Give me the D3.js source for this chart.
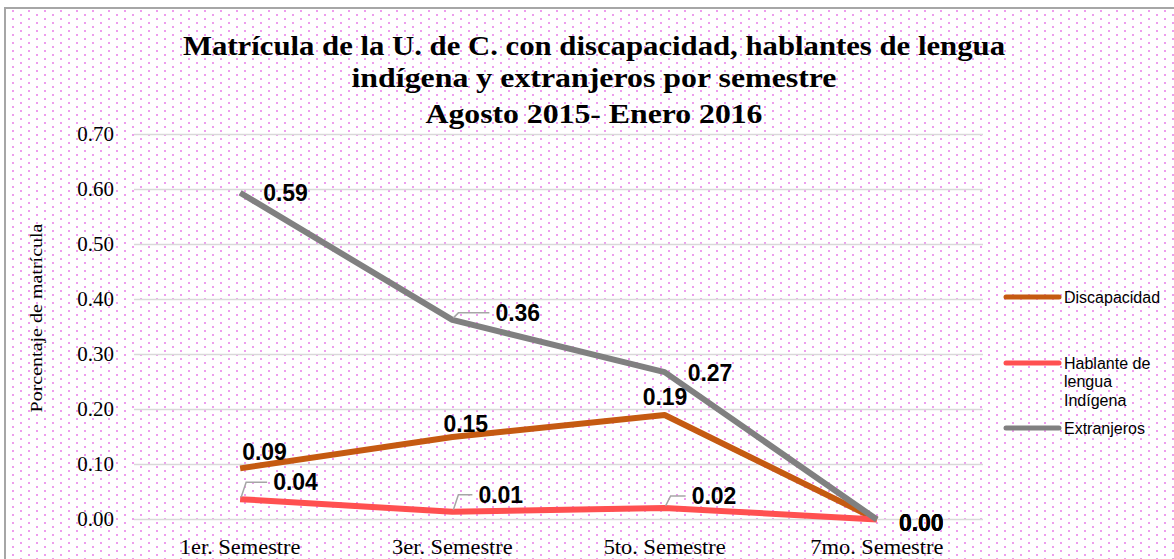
<!DOCTYPE html>
<html>
<head>
<meta charset="utf-8">
<script src="https://cdn.jsdelivr.net/npm/d3@7"></script>
<style>
    html, body { margin: 0; padding: 0; background: #fff; }
    svg { display: block; }
</style>
</head>
<body>
<svg id="chart" width="1174" height="559"></svg>
<script>
// data
const semesters = ['1er. Semestre', '3er. Semestre', '5to. Semestre', '7mo. Semestre'];
const discapacidad = [0.093, 0.150, 0.190, 0.0];
const hablante = [0.037, 0.014, 0.021, 0.0];
const extranjeros = [0.594, 0.363, 0.268, 0.0];
const yTicks = [0, 0.1, 0.2, 0.3, 0.4, 0.5, 0.6, 0.7];
const titleLines = [
    'Matrícula de la U. de C. con discapacidad, hablantes de lengua',
    'indígena y extranjeros por semestre',
    'Agosto 2015- Enero 2016'
];

const series = [
    { name: 'Discapacidad', legend: ['Discapacidad'], values: discapacidad, color: '#c55a11',
      offsets: [[2, -16], [-9, -13], [-22, -18], [22, 3]], leader: [false, false, false, false], legendY: 297 },
    { name: 'Hablante', legend: ['Hablante de', 'lengua', 'Indígena'], values: hablante, color: '#ff5050',
      offsets: [[33, -17], [26, -17], [27, -12], [22, 3]], leader: [true, true, true, false], legendY: 363 },
    { name: 'Extranjeros', legend: ['Extranjeros'], values: extranjeros, color: '#808080',
      offsets: [[23, 0], [43, -7], [23, 1], [22, 3]], leader: [false, true, false, false], legendY: 428 }
];

const svg = d3.select('#chart');

// dotted pink background (checkerboard of small dots)
const defs = svg.append('defs');
const pat = defs.append('pattern')
    .attr('id', 'dots')
    .attr('patternUnits', 'userSpaceOnUse')
    .attr('width', 16)
    .attr('height', 8);
pat.append('rect').attr('x', 12).attr('y', 2).attr('width', 2).attr('height', 2)
    .attr('fill', '#ee9cee').attr('shape-rendering', 'crispEdges');
pat.append('rect').attr('x', 4).attr('y', 6).attr('width', 2).attr('height', 2)
    .attr('fill', '#ee9cee').attr('shape-rendering', 'crispEdges');

svg.append('rect').attr('width', 1174).attr('height', 559).attr('fill', '#fff');
svg.append('rect')
    .attr('x', 5).attr('y', 8)
    .attr('width', 1200).attr('height', 600)
    .attr('fill', 'url(#dots)')
    .attr('stroke', '#a6a6a6')
    .attr('stroke-width', 2);

const plot = { left: 134, right: 983, top: 134.5, bottom: 519.5 };

const x = d3.scaleBand()
    .domain(semesters)
    .range([plot.left, plot.right]);

const y = d3.scaleLinear()
    .domain([0, 0.7])
    .range([plot.bottom, plot.top]);

const px = (i) => x(semesters[i]) + x.bandwidth() / 2;

// stretch serif text a bit to match the wider original face
function widen(sel, k) {
    sel.each(function () {
        const w = this.getComputedTextLength();
        d3.select(this).attr('textLength', w * k).attr('lengthAdjust', 'spacingAndGlyphs');
    });
}

// grid
svg.append('g')
    .selectAll('line')
    .data(yTicks)
    .join('line')
    .attr('x1', plot.left)
    .attr('x2', plot.right)
    .attr('y1', d => y(d))
    .attr('y2', d => y(d))
    .attr('stroke', '#d9d9d9')
    .attr('stroke-width', 1.5);

// y axis labels
const yAxis = svg.append('g')
    .attr('transform', `translate(${plot.left - 20},0)`)
    .call(d3.axisLeft(y).tickValues(yTicks).tickFormat(d3.format('.2f')).tickSize(0).tickPadding(0));
yAxis.select('.domain').remove();
yAxis.selectAll('text')
    .attr('font-family', 'Liberation Serif, serif')
    .attr('font-size', 20)
    .attr('fill', '#000')
    .call(widen, 1.05);

// x axis labels
const xAxis = svg.append('g')
    .attr('transform', `translate(0,${plot.bottom + 20})`)
    .call(d3.axisBottom(x).tickSize(0).tickPadding(0));
xAxis.select('.domain').remove();
xAxis.selectAll('text')
    .attr('font-family', 'Liberation Serif, serif')
    .attr('font-size', 20)
    .attr('fill', '#000')
    .call(widen, 1.12);

// axis title
svg.append('text')
    .attr('transform', 'translate(42,318) rotate(-90)')
    .attr('text-anchor', 'middle')
    .attr('font-family', 'Liberation Serif, serif')
    .attr('font-size', 17)
    .attr('textLength', 189)
    .attr('lengthAdjust', 'spacingAndGlyphs')
    .text('Porcentaje de matrícula');

// title
const titleWidths = [822, 485, 337];
const titleBase = [55, 87, 123];
svg.append('g')
    .selectAll('text')
    .data(titleLines)
    .join('text')
    .attr('x', 594)
    .attr('y', (d, i) => titleBase[i])
    .attr('text-anchor', 'middle')
    .attr('font-family', 'Liberation Serif, serif')
    .attr('font-weight', 'bold')
    .attr('font-size', 28)
    .attr('textLength', (d, i) => titleWidths[i])
    .attr('lengthAdjust', 'spacingAndGlyphs')
    .text(d => d);

// lines
const line = d3.line()
    .x((d, i) => px(i))
    .y(d => y(d));

svg.append('g')
    .selectAll('path')
    .data(series)
    .join('path')
    .attr('d', d => line(d.values))
    .attr('fill', 'none')
    .attr('stroke', d => d.color)
    .attr('stroke-width', 6)
    .attr('stroke-linejoin', 'round');

// leader lines
series.forEach(s => {
    s.values.forEach((v, i) => {
        if (!s.leader[i]) return;
        const x0 = px(i) + 1, y0 = y(v) - 2;
        const lx = px(i) + s.offsets[i][0], ly = y(v) + s.offsets[i][1];
        svg.append('path')
            .attr('d', `M${x0},${y0}L${x0 + 5},${ly}L${lx - 6},${ly}`)
            .attr('fill', 'none')
            .attr('stroke', '#a6a6a6')
            .attr('stroke-width', 1.5);
    });
});

// data labels
series.forEach(s => {
    svg.append('g')
        .selectAll('text')
        .data(s.values)
        .join('text')
        .attr('x', (d, i) => px(i) + s.offsets[i][0])
        .attr('y', (d, i) => y(d) + s.offsets[i][1])
        .attr('dy', '0.35em')
        .attr('font-family', 'Liberation Sans, Arial, sans-serif')
        .attr('font-weight', 'bold')
        .attr('font-size', 23)
        .attr('fill', '#000')
        .text(d => d3.format('.2f')(d));
});

// legend
const legend = svg.append('g');
series.forEach(s => {
    legend.append('line')
        .attr('x1', 1006).attr('x2', 1059)
        .attr('y1', s.legendY).attr('y2', s.legendY)
        .attr('stroke', s.color)
        .attr('stroke-width', 5)
        .attr('stroke-linecap', 'round');
    legend.append('text')
        .selectAll('tspan')
        .data(s.legend)
        .join('tspan')
        .attr('x', 1064)
        .attr('y', (d, i) => s.legendY + i * 18.5)
        .attr('dy', '0.35em')
        .attr('font-family', 'Liberation Sans, Arial, sans-serif')
        .attr('font-size', 16)
        .attr('fill', '#000')
        .text(d => d);
});
</script>
</body>
</html>
